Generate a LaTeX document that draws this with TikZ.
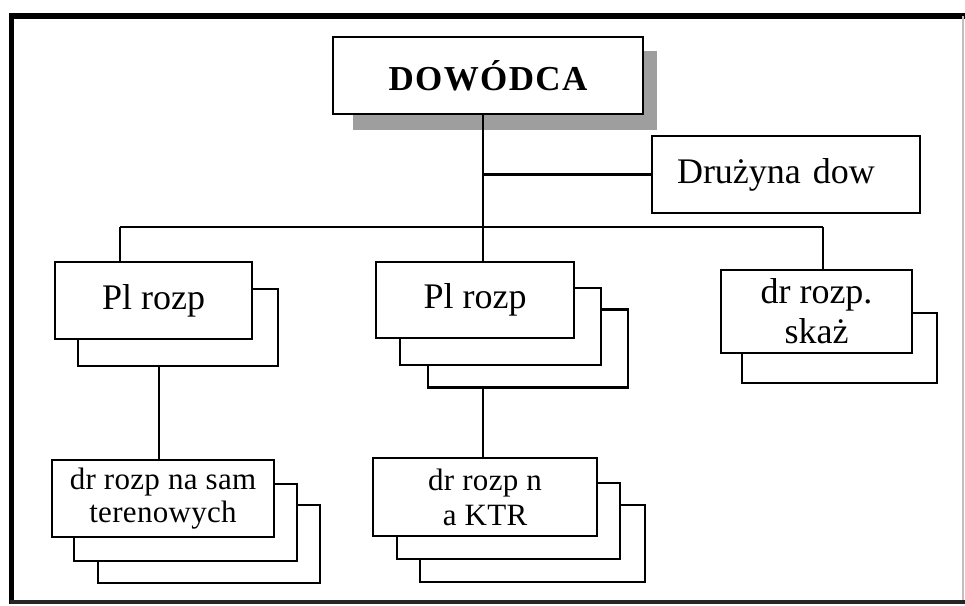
\documentclass[tikz,border=0pt]{standalone}
\usepackage{fontspec}
\setmainfont{Liberation Serif}
\begin{document}
\begin{tikzpicture}[x=1pt,y=-1pt,
  box/.style={draw=black, fill=white, line width=2.3pt, inner sep=0pt, align=center},
  wh/.style 2 args={minimum width=#1pt, minimum height=#2pt},
  link/.style={line width=2.3pt},
  big/.style={font=\fontsize{36}{40}\selectfont},
  small/.style={font=\fontsize{31}{33}\selectfont\addfontfeatures{LetterSpace=1}}]
\useasboundingbox (0,0) rectangle (965,605);

% outer frame
\draw[line width=5.5pt] (11.5,604) -- (11.5,16) -- (965,16);
\draw[line width=4pt, black!85] (9.5,601.5) -- (965,601.5);
\draw[line width=1.2pt, black!25] (963,16) -- (963,600);

% commander with shadow
\fill[black!38] (353,51) rectangle (657,130);
\node[box, wh={310}{77}, font=\fontsize{35}{40}\selectfont\bfseries\addfontfeatures{LetterSpace=4}] (dow) at (488,75.5) {DOWÓDCA};

% command squad
\node[box, wh={268}{77}, big, align=left, text width=218pt, inner xsep=25pt] (druz) at (786,174.5) {Drużyna dow};

% platoons, first column
\node[box, wh={200}{77}] (plA2) at (178,327.5) {};
\node[box, wh={197}{77}, big] (plA) at (153.5,300.5) {Pl rozp};

% platoons, second column
\node[box, wh={200}{78}] (plB3) at (528,348.5) {};
\node[box, wh={201}{77}] (plB2) at (500.5,326.5) {};
\node[box, wh={198}{76}, big] (plB) at (475,300) {Pl rozp};

% contamination recon squads
\node[box, wh={195}{70}] (drS2) at (839.5,348) {};
\node[box, wh={191}{83}, big] (drS) at (816.5,311.5) {dr rozp.\\ skaż};

% lower squads, first column
\node[box, wh={222}{78}] (drA3) at (209,544) {};
\node[box, wh={223}{77}] (drA2) at (185.5,522.5) {};
\node[box, wh={222}{77}, small] (drA) at (163,498.5) {dr rozp na sam\\terenowych};

% lower squads, second column
\node[box, wh={225}{77}] (drB3) at (532.5,543.5) {};
\node[box, wh={223}{76}] (drB2) at (508.5,521) {};
\node[box, wh={224}{78}, font=\fontsize{31}{35}\selectfont\addfontfeatures{LetterSpace=1}] (drB) at (485,497) {dr rozp n\\a KTR};

% connectors
\coordinate (bus) at (483,227);
\coordinate (busL) at (120,227);
\coordinate (busR) at (823,227);
\coordinate (tapA) at (159,366);
\draw[link] (dow.south -| bus) -- (bus |- plB.north);
\draw[link] (druz.west -| bus) -- (druz.west);
\draw[link] (busL) -- (busR);
\draw[link] (busL) -- (busL |- plA.north);
\draw[link] (busR) -- (busR |- drS.north);
\draw[link] (tapA) -- (tapA |- drA.north);
\draw[link] (plB3.south -| bus) -- (bus |- drB.north);
\end{tikzpicture}
\end{document}
